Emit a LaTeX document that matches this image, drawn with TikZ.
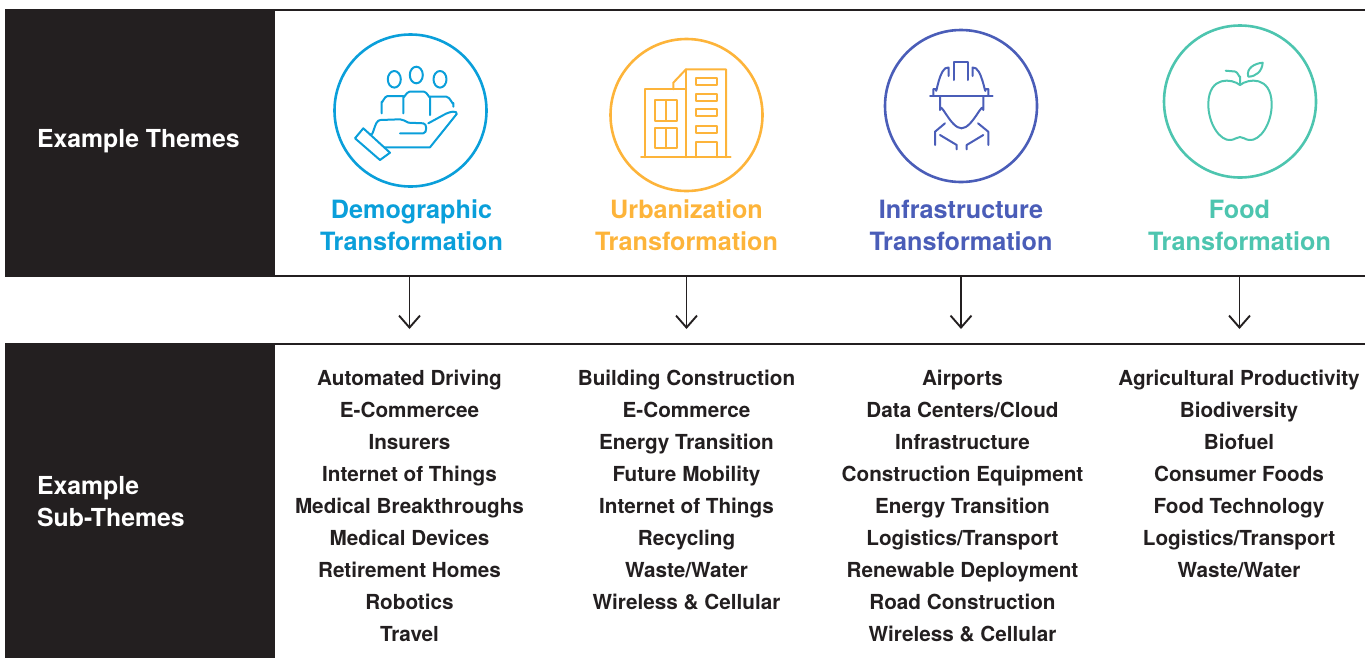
\documentclass[tikz,border=0pt]{standalone}
\usepackage{fontspec}
\setmainfont{TeX Gyre Heros}
\usetikzlibrary{arrows.meta}
\definecolor{panelblack}{HTML}{231F20}
\definecolor{demoblue}{HTML}{0A9FDA}
\definecolor{urborange}{HTML}{FDB43A}
\definecolor{infraindigo}{HTML}{4A5DB8}
\definecolor{foodteal}{HTML}{4DC5AF}
\tikzset{
	theme/.style={circle, draw=#1, line width=2.6pt, minimum size=152pt, inner sep=0pt},
	icon/.style={draw=#1, line width=2pt, line cap=round, line join=round},
	title/.style={text=#1, font=\fontsize{25.2}{32}\selectfont\bfseries, align=center, inner sep=0pt},
	sublist/.style={text=panelblack, font=\fontsize{20.7}{32}\selectfont\bfseries, align=center, inner sep=0pt, anchor=north},
	sidelabel/.style={text=white, font=\fontsize{24.8}{32}\selectfont\bfseries, align=left, inner sep=0pt, anchor=west},
	panel/.style={draw=panelblack, line width=2.6pt},
	down/.style={draw=panelblack, line width=1.9pt, -{Straight Barb[length=12pt,width=21pt]}}
}

\begin{document}
\begin{tikzpicture}[x=1pt,y=-1pt]
        \useasboundingbox (0,0) rectangle (1365,657);
        % top panel
        \fill[panelblack] (6.5,10) rectangle (275,276);
        \draw[panel] (1366,10) -- (6.5,10) -- (6.5,276) -- (1366,276);
        \node[sidelabel] (themes_L) at (37,141.5) {Example Themes};
        % bottom panel
        \fill[panelblack] (6.5,344) rectangle (275,658);
        \draw[panel] (6.5,658) -- (6.5,344) -- (1366,344);
        \node[sidelabel] (subthemes_L) at (37,502) {Example\\Sub-Themes};
        % circles
        \node[theme=demoblue] (demo_C) at (410.5,110.5) {};
        \node[theme=urborange] (urb_C) at (686.5,115) {};
        \node[theme=infraindigo] (infra_C) at (961,106) {};
        \node[theme=foodteal] (food_C) at (1240,101.5) {};
        % hand with people
        \begin{scope}[shift={(demo_C.center)}, icon=demoblue]
            \draw (-16.2,-31.2) ellipse (6.5 and 8.3);
            \draw (5.8,-35.5) ellipse (6.5 and 8.3);
            \draw (29.5,-31.2) ellipse (6.5 and 8.3);
            \draw (-28.8,2.8) -- (-28.8,-8.8) to[out=-90,in=180] (-23,-14.5) -- (-7.2,-14.5);
            \draw (-7.2,2.8) -- (-7.2,-13.8) to[out=-90,in=180] (-1,-18.8) -- (13.5,-18.8) to[out=0,in=-90] (19.5,-13.8) -- (19.5,4.5);
            \draw (19.5,-13.8) -- (36,-13.8) to[out=0,in=-90] (42.8,-7.5) -- (42.8,-3.8);
            \draw (-55.5,27.8) -- (-47.2,17.8) -- (-20.5,42.2) -- (-30.5,49.5) -- cycle;
            \draw (-41,23.3) to[out=-50,in=180] (-30,9.5) -- (-10.5,8.8) to[out=0,in=160] (-2,12.2) -- (12.8,12.8) to[out=0,in=0] (12.8,22.8) -- (-10.5,22.8);
            \draw (17.8,12.8) -- (33,4.5) .. controls (40,0.5) and (47,0) .. (46.2,3.5) -- (19.5,36.8) -- (-26.4,36.8);
        \end{scope}
        % buildings
        \begin{scope}[shift={(urb_C.center)}, icon=urborange]
            \draw (-45.5,42.3) -- (44.2,42.3);
            \draw (-41.5,42.3) -- (-41.5,-25.7) -- (-0.5,-25.7);
            \draw (-31.5,-15) rectangle (-9.2,5.7);
            \draw (-31.5,13.3) rectangle (-9.2,33.3);
            \draw (-20.3,-15) -- (-20.3,5.7);
            \draw (-20.3,13.3) -- (-20.3,33.3);
            \draw (-13.2,-25.7) -- (-13.2,-32.3) -- (-0.5,-45.7) -- (39.5,-45.7) -- (39.5,42.3);
            \draw (-0.5,-45.7) -- (-0.5,42.3);
            \foreach \wy in {-36.7,-21,-6,10.5}
                \draw (9.5,\wy) rectangle (30.8,\wy+7);
            \draw (9.5,42.3) -- (9.5,26.7) -- (30.8,26.7) -- (30.8,42.3);
        \end{scope}
        % worker with helmet
        \begin{scope}[shift={(infra_C.center)}, icon=infraindigo]
            \draw (-31,-10) -- (31.7,-10);
            \draw (-27.7,-10) -- (-27.7,-17) -- (-25,-17) to[out=-90,in=170] (-12.5,-38.5) -- (-12.5,-30);
            \draw (-7.5,-26) -- (-7.5,-44) -- (6.5,-44) -- (6.5,-26);
            \draw (11.5,-30) -- (11.5,-38.5) to[out=10,in=-90] (24.5,-17) -- (27.3,-17) -- (27.3,-10);
            \draw (-21,-10) -- (-21,4) to[out=90,in=180] (0.5,22.3) to[out=0,in=90] (22.3,4) -- (22.3,-10);
            \draw (-16,17.3) -- (-26,25.7) -- (-26,39);
            \draw (-21,29) -- (-4.3,39) -- (-4.3,43.3);
            \draw (17,17.3) -- (27.3,25.7) -- (27.3,39);
            \draw (22.3,29) -- (5.7,39) -- (5.7,43.3);
        \end{scope}
        % apple
        \begin{scope}[shift={(food_C.center)}, icon=foodteal]
            \draw (0,-16.5) .. controls (-8,-23) and (-31,-26) .. (-31.7,2)
                .. controls (-32,22) and (-20,40) .. (-9,38.5)
                .. controls (-5,38) and (-3,35.5) .. (0,35.5)
                .. controls (3,35.5) and (5,38) .. (9,38.5)
                .. controls (20,40) and (32,22) .. (31.7,2)
                .. controls (31,-26) and (8,-23) .. (0,-16.5);
            \draw (0,-16.5) -- (0,-25) to[out=-90,in=0] (-5,-30) -- (-14.3,-30.8);
            \draw (8.3,-24.8) .. controls (6,-33) and (14,-38) .. (22.7,-38.8)
                .. controls (22,-30) and (16,-25) .. (8.3,-24.8);
        \end{scope}
        % titles
        \node[title=demoblue] (demo_T) at (411.5,225.5) {Demographic\\Transformation};
        \node[title=urborange] (urb_T) at (686.5,225.5) {Urbanization\\Transformation};
        \node[title=infraindigo] (infra_T) at (961,225.5) {Infrastructure\\Transformation};
        \node[title=foodteal] (food_T) at (1239.5,225.5) {Food\\Transformation};
        % arrows
        \coordinate (demo_A) at (409.5,277);
        \coordinate (urb_A) at (686.5,277);
        \coordinate (infra_A) at (961,277);
        \coordinate (food_A) at (1239.5,277);
        \coordinate (demo_B) at (409.5,329);
        \coordinate (urb_B) at (686.5,329);
        \coordinate (infra_B) at (961,329);
        \coordinate (food_B) at (1239.5,329);
        \draw[down] (demo_A) -- (demo_B);
        \draw[down] (urb_A) -- (urb_B);
        \draw[down] (infra_A) -- (infra_B);
        \draw[down] (food_A) -- (food_B);
        % sub-themes
        \node[sublist] (demo_S) at (409.5,370) {Automated Driving\\E-Commercee\\Insurers\\Internet of Things\\Medical Breakthroughs\\Medical Devices\\Retirement Homes\\Robotics\\Travel};
        \node[sublist] (urb_S) at (686.5,370) {Building Construction\\E-Commerce\\Energy Transition\\Future Mobility\\Internet of Things\\Recycling\\Waste/Water\\Wireless \& Cellular};
        \node[sublist] (infra_S) at (962.5,370) {Airports\\Data Centers/Cloud\\Infrastructure\\Construction Equipment\\Energy Transition\\Logistics/Transport\\Renewable Deployment\\Road Construction\\Wireless \& Cellular};
        \node[sublist] (food_S) at (1239,370) {Agricultural Productivity\\Biodiversity\\Biofuel\\Consumer Foods\\Food Technology\\Logistics/Transport\\Waste/Water};
    \end{tikzpicture}
\end{document}
